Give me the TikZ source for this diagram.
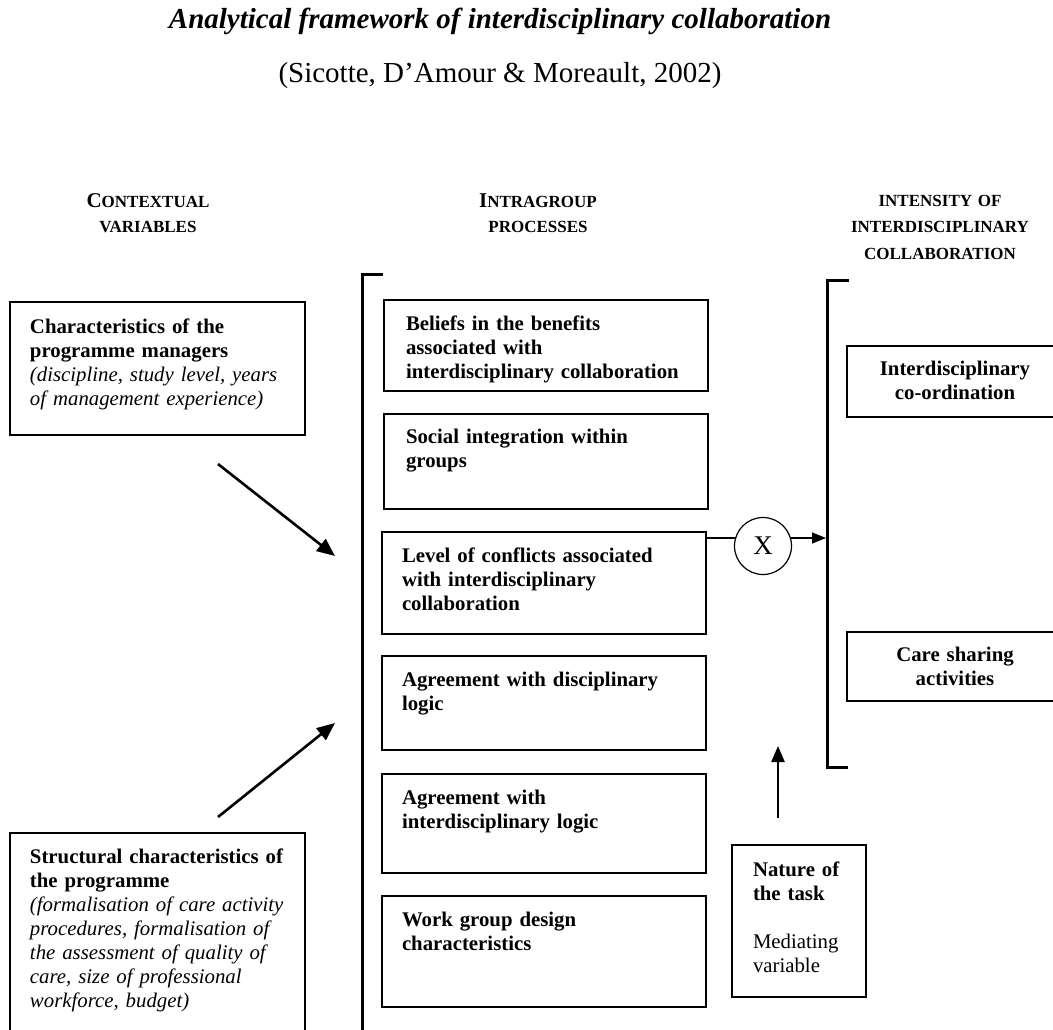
\documentclass[tikz,border=0pt]{standalone}
\usepackage{fontspec}
\setmainfont{Liberation Serif}
\usetikzlibrary{arrows.meta}

\tikzset{
  box/.style={draw, line width=2pt, inner sep=0pt, outer sep=0pt, anchor=north west},
  body/.style={inner sep=0pt, outer sep=0pt, anchor=base west, align=left,
    text width=#1, font=\fontsize{20.8}{24}\selectfont},
  body/.default=330pt,
  cbody/.style={inner sep=0pt, outer sep=0pt, anchor=base, align=center,
    text width=220pt, font=\fontsize{20.8}{24}\selectfont},
  head/.style={inner sep=0pt, anchor=base, align=center, text width=260pt,
    font=\bfseries\fontsize{17}{25.5}\selectfont},
  bracket/.style={line width=3pt, line cap=rect},
  bigarrow/.style={line width=2.6pt, -{Triangle[length=18pt, width=15pt]}},
  thinline/.style={line width=1.2pt},
}
\newcommand{\capA}[1]{{\fontsize{21}{24}\selectfont #1}}

\begin{document}
\begin{tikzpicture}[x=1pt, y=-1pt]
\useasboundingbox (0,0) rectangle (1053,1029);
\clip (0,0) rectangle (1053,1029);

% title
\node[inner sep=0pt, anchor=base] (title) at (500,28)
  {\fontsize{29}{32}\selectfont\bfseries\itshape Analytical framework of interdisciplinary collaboration};
\node[inner sep=0pt, anchor=base] (subtitle) at (500,82)
  {\fontsize{29}{32}\selectfont (Sicotte, D’Amour \& Moreault, 2002)};

% column headings
\node[head] (hctx) at (148,207) {\capA{C}ONTEXTUAL\\VARIABLES};
\node[head] (hintra) at (538,207) {\capA{I}NTRAGROUP\\PROCESSES};
\node[head, font=\bfseries\fontsize{17}{26.5}\selectfont] (hint) at (940,206)
  {INTENSITY OF\\INTERDISCIPLINARY\\COLLABORATION};

% contextual variables
\node[box, minimum width=295pt, minimum height=133pt] (ctx1) at (10,302) {};
\node[body] (ctx1t) at (30,333)
  {\textbf{Characteristics of the}\\\textbf{programme managers}\\
   \textit{(discipline, study level, years}\\\textit{of management experience)}};

\node[box, minimum width=295pt, minimum height=210pt] (ctx2) at (10,833) {};
\node[body] (ctx2t) at (30,863)
  {\textbf{Structural characteristics of}\\\textbf{the programme}\\
   \textit{(formalisation of care activity}\\\textit{procedures, formalisation of}\\
   \textit{the assessment of quality of}\\\textit{care, size of professional}\\
   \textit{workforce, budget)}};

% bracket round the intragroup processes
\draw[bracket] (381,274) -- (362,274) -- (362,1040);

% intragroup processes
\node[box, minimum width=324pt, minimum height=91pt] (p1) at (384,300) {};
\node[body, font=\bfseries\fontsize{20.8}{24}\selectfont] (p1t) at (406,330)
  {Beliefs in the benefits\\associated with\\interdisciplinary collaboration};

\node[box, minimum width=324pt, minimum height=95pt] (p2) at (384,414) {};
\node[body, font=\bfseries\fontsize{20.8}{24}\selectfont] (p2t) at (406,443)
  {Social integration within\\groups};

\node[box, minimum width=324pt, minimum height=102pt] (p3) at (382,532) {};
\node[body, font=\bfseries\fontsize{20.8}{24}\selectfont] (p3t) at (402,562)
  {Level of conflicts associated\\with interdisciplinary\\collaboration};

\node[box, minimum width=324pt, minimum height=94pt] (p4) at (382,656) {};
\node[body, font=\bfseries\fontsize{20.8}{24}\selectfont] (p4t) at (402,686)
  {Agreement with disciplinary\\logic};

\node[box, minimum width=324pt, minimum height=99pt] (p5) at (382,774) {};
\node[body, font=\bfseries\fontsize{20.8}{24}\selectfont] (p5t) at (402,804)
  {Agreement with\\interdisciplinary logic};

\node[box, minimum width=324pt, minimum height=111pt] (p6) at (382,896) {};
\node[body, font=\bfseries\fontsize{20.8}{24}\selectfont] (p6t) at (402,926)
  {Work group design\\characteristics};

% bracket round the intensity of collaboration
\draw[bracket] (847,280) -- (827,280) -- (827,767) -- (846,767);

% intensity of collaboration
\node[box, minimum width=215pt, minimum height=71pt] (r1) at (847,346) {};
\node[cbody, font=\bfseries\fontsize{20.8}{24}\selectfont] (r1t) at (955,375)
  {Interdisciplinary\\co-ordination};
\node[box, minimum width=215pt, minimum height=69pt] (r2) at (847,632) {};
\node[cbody, font=\bfseries\fontsize{20.8}{24}\selectfont] (r2t) at (955,661)
  {Care sharing\\activities};

% mediating variable
\node[box, minimum width=134pt, minimum height=152pt] (task) at (732,845) {};
\node[body=110pt] (taskt) at (753,876)
  {\textbf{Nature of}\\\textbf{the task}\\[24pt]Mediating\\variable};

% interaction term
\node[draw, thinline, circle, minimum size=57pt, inner sep=0pt,
  font=\fontsize{27}{28}\selectfont] (xc) at (763,546) {X};

% connectors
\coordinate (a1s) at (218,464);
\coordinate (a1e) at (335,556);
\coordinate (a2s) at (218,817);
\coordinate (a2e) at (335,723);
\coordinate (p3out) at (706,538);
\coordinate (xin) at (735.5,538);
\coordinate (xout) at (790.5,538);
\coordinate (brk) at (826,538);
\coordinate (ts) at (778,818);
\coordinate (te) at (778,746);

\draw[bigarrow] (a1s) -- (a1e);
\draw[bigarrow] (a2s) -- (a2e);
\draw[thinline] (p3out) -- (xin);
\draw[thinline, -{Triangle[length=14pt, width=11pt]}] (xout) -- (brk);
\draw[line width=2.4pt, -{Triangle[length=16pt, width=13pt]}] (ts) -- (te);
\end{tikzpicture}
\end{document}
